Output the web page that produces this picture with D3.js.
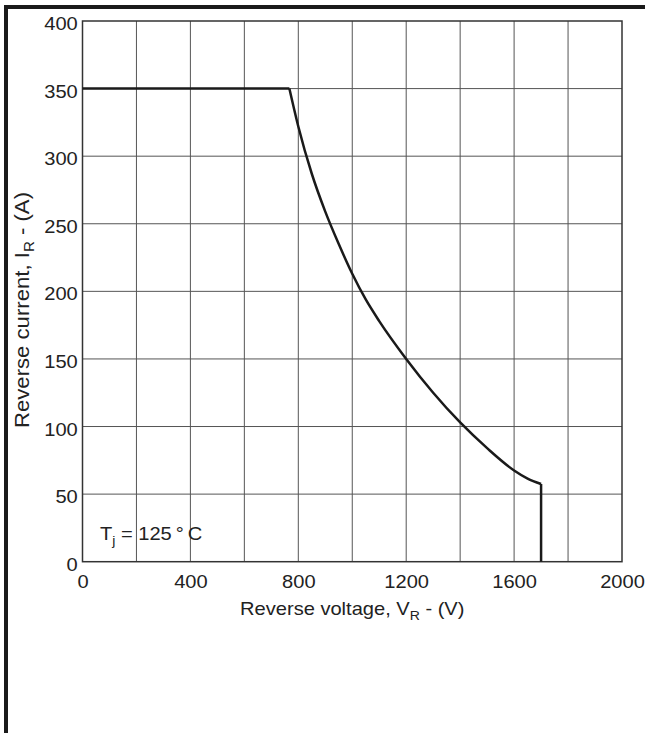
<!DOCTYPE html>
<html>
<head>
<meta charset="utf-8">
<script src="https://cdn.jsdelivr.net/npm/d3@7"></script>
<style>
  html, body { margin: 0; padding: 0; background: #fff; }
  svg { display: block; }
  text { font-family: "Liberation Sans", Arial, Helvetica, sans-serif; fill: #222; }
</style>
</head>
<body>
<svg id="chart" width="645" height="733"></svg>
<script>
// Data
const flatVoltage = [0, 767];
const flatCurrent = [350, 350];
const curveVoltage = [767, 800, 850, 900, 950, 1000, 1050, 1100, 1200, 1300, 1400, 1500, 1600, 1650, 1700];
const curveCurrent = [350, 322, 287, 259, 235, 213, 194, 178, 150, 125, 103, 84, 67.5, 61.5, 57.5];
const dropVoltage = [1700, 1700];
const dropCurrent = [57.5, 0];
const xTickValues = [0, 400, 800, 1200, 1600, 2000];
const xGridValues = [200, 400, 600, 800, 1000, 1200, 1400, 1600, 1800];
const yTickValues = [0, 50, 100, 150, 200, 250, 300, 350, 400];

const svg = d3.select("#chart");
const pL = 82.5, pR = 622, pT = 21, pB = 561.7;
const FS = 18.6, SX = 1.08;

const x = d3.scaleLinear().domain([0, 2000]).range([pL, pR]);
const y = d3.scaleLinear().domain([0, 400]).range([pB, pT]);

// outer frame bars
svg.append("rect").attr("x", 4).attr("y", 5).attr("width", 641).attr("height", 4).attr("fill", "#1a1a1a");
svg.append("rect").attr("x", 4).attr("y", 5).attr("width", 4).attr("height", 728).attr("fill", "#1a1a1a");

// grid
const grid = svg.append("g");
grid.selectAll("line.v").data(xGridValues).join("line").attr("class", "v")
  .attr("x1", d => x(d)).attr("x2", d => x(d))
  .attr("y1", pT).attr("y2", pB)
  .attr("stroke", "#555").attr("stroke-width", 1);
grid.selectAll("line.h").data(yTickValues.slice(1, -1)).join("line").attr("class", "h")
  .attr("x1", pL).attr("x2", pR)
  .attr("y1", d => y(d)).attr("y2", d => y(d))
  .attr("stroke", "#555").attr("stroke-width", 1);

// plot border
svg.append("rect").attr("x", pL).attr("y", pT).attr("width", pR - pL).attr("height", pB - pT)
  .attr("fill", "none").attr("stroke", "#333").attr("stroke-width", 1.5);

// axes labels via d3 axes (no domain lines)
const xAxis = svg.append("g").attr("transform", `translate(0,${pB})`)
  .call(d3.axisBottom(x).tickValues(xTickValues).tickSize(0).tickFormat(d3.format("d")));
xAxis.select(".domain").remove();
xAxis.selectAll("text").style("font-size", FS + "px").attr("fill", "#222")
  .attr("y", 26.3).attr("dy", 0).attr("transform", `scale(${SX},1)`)
  .style("font-family", '"Liberation Sans", Arial, sans-serif');

const yAxis = svg.append("g").attr("transform", `translate(${pL},0)`)
  .call(d3.axisLeft(y).tickValues(yTickValues).tickSize(0).tickFormat(d3.format("d")));
yAxis.select(".domain").remove();
yAxis.selectAll("text").style("font-size", FS + "px").attr("fill", "#222")
  .attr("x", -4.4).attr("y", 8.5).attr("dy", 0).attr("transform", `scale(${SX},1)`)
  .style("font-family", '"Liberation Sans", Arial, sans-serif');

// curve
const lineLin = d3.line().x(d => x(d[0])).y(d => y(d[1]));
const lineCurve = d3.line().x(d => x(d[0])).y(d => y(d[1])).curve(d3.curveMonotoneX);
svg.append("path").datum(d3.zip(flatVoltage, flatCurrent)).attr("d", lineLin)
  .attr("fill", "none").attr("stroke", "#1a1a1a").attr("stroke-width", 2.5);
svg.append("path").datum(d3.zip(curveVoltage, curveCurrent)).attr("d", lineCurve)
  .attr("fill", "none").attr("stroke", "#1a1a1a").attr("stroke-width", 2.5);
svg.append("path").datum(d3.zip(dropVoltage, dropCurrent)).attr("d", lineLin)
  .attr("fill", "none").attr("stroke", "#1a1a1a").attr("stroke-width", 2.5);

// annotation
const ann = svg.append("text").attr("transform", `translate(100,540) scale(${SX},1)`).style("font-size", FS + "px");
ann.append("tspan").text("T");
ann.append("tspan").attr("dy", 4.5).style("font-size", "13px").text("j");
ann.append("tspan").attr("dy", -4.5).text(" = 125\u2009°\u2009C");

// x title
const xt = svg.append("text").attr("transform", `translate(${(pL + pR) / 2},615) scale(${SX},1)`)
  .attr("text-anchor", "middle").style("font-size", FS + "px");
xt.append("tspan").text("Reverse voltage, V");
xt.append("tspan").attr("dy", 4.5).style("font-size", "13px").text("R");
xt.append("tspan").attr("dy", -4.5).text(" - (V)");

// y title
const yt = svg.append("text").attr("transform", `translate(28.5,310) rotate(-90) scale(${SX},1)`)
  .attr("text-anchor", "middle").style("font-size", "20.5px");
yt.append("tspan").text("Reverse current, I");
yt.append("tspan").attr("dy", 5).style("font-size", "14px").text("R");
yt.append("tspan").attr("dy", -5).text(" - (A)");
</script>
</body>
</html>
